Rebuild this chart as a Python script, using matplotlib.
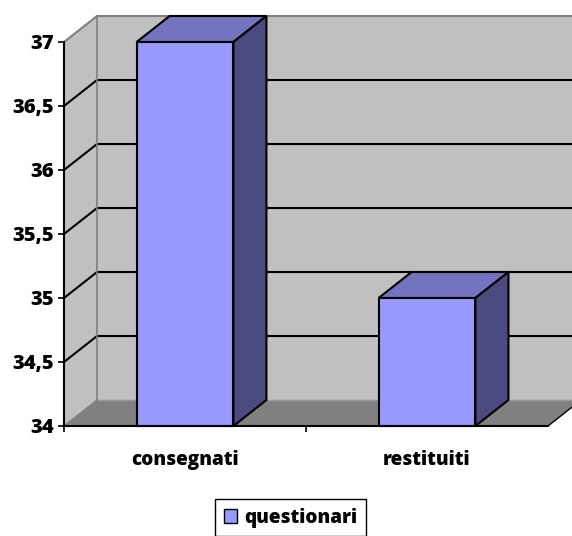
import matplotlib
matplotlib.use("Agg")
import matplotlib.pyplot as plt
from matplotlib.patches import Polygon, Patch
import numpy as np

# ---- data ----
categories = ["consegnati", "restituiti"]
values = [37, 35]
series_name = "questionari"
y_ticks = [34, 34.5, 35, 35.5, 36, 36.5, 37]
y_tick_labels = ["34", "34,5", "35", "35,5", "36", "36,5", "37"]

# ---- style ----
plt.rcParams["font.family"] = ["Open Sans", "DejaVu Sans"]
FW = 800
plt.rcParams["font.weight"] = FW
FS = 14.5
FS_CAT = 13.7
front_c = "#9999FF"
top_c = "#7373BF"
side_c = "#4B4B7F"
wall_c = "#C0C0C0"
floor_c = "#808080"

ymin, ymax = 34, 37
dx, dy = 0.1364, 0.203   # depth offset in data units
bw = 0.4
x = np.arange(len(categories))
xl, xr = -0.5, len(categories) - 0.5

fig = plt.figure(figsize=(5.72, 5.36), dpi=100)
ax = fig.add_axes([0, 0, 1, 1])
ax.set_xlim(-0.7645, 1.599)
ax.set_ylim(33.1406, 37.328)
ax.set_facecolor("white")

# walls
ax.add_patch(Polygon([(xl, ymin), (xl + dx, ymin + dy), (xl + dx, ymax + dy), (xl, ymax)],
                     closed=True, facecolor=wall_c, edgecolor="none", zorder=1))
ax.add_patch(Polygon([(xl + dx, ymin + dy), (xr + dx, ymin + dy), (xr + dx, ymax + dy), (xl + dx, ymax + dy)],
                     closed=True, facecolor=wall_c, edgecolor="none", zorder=1))
# floor
ax.add_patch(Polygon([(xl, ymin), (xr, ymin), (xr + dx, ymin + dy), (xl + dx, ymin + dy)],
                     closed=True, facecolor=floor_c, edgecolor="none", zorder=1))
ax.plot([xr, xr + dx], [ymin, ymin + dy], color="black", lw=1.0, zorder=2)
ax.plot([xl + dx, xr + dx], [ymin + dy, ymin + dy], color="#9a9a9a", lw=1.0, zorder=2)

# gridlines
for v in y_ticks[1:-1]:
    ax.plot([xl, xl + dx, xr + dx], [v, v + dy, v + dy], color="black", lw=1.5, zorder=2)
# wall edges
ax.plot([xl, xl + dx, xr + dx], [ymax, ymax + dy, ymax + dy], color="#808080", lw=1.5, zorder=2)
ax.plot([xl + dx, xl + dx], [ymin + dy, ymax + dy], color="#808080", lw=1.2, zorder=2)
ax.plot([xl, xl + dx], [ymin, ymin + dy], color="#808080", lw=1.0, zorder=2)

# bars: front faces
bars = ax.bar(x, [v - ymin for v in values], bottom=ymin, width=bw, color=front_c,
              edgecolor="black", linewidth=1.5, zorder=4, label=series_name)
for xi, v in zip(x, values):
    x0, x1 = xi - bw / 2, xi + bw / 2
    ax.add_patch(Polygon([(x0, v), (x1, v), (x1 + dx, v + dy), (x0 + dx, v + dy)],
                         closed=True, facecolor=top_c, edgecolor="black", lw=1.5, zorder=3))
    ax.add_patch(Polygon([(x1, ymin), (x1, v), (x1 + dx, v + dy), (x1 + dx, ymin + dy)],
                         closed=True, facecolor=side_c, edgecolor="black", lw=1.5, zorder=3))

# axes spines
for s in ("top", "right"):
    ax.spines[s].set_visible(False)
ax.spines["left"].set_position(("data", xl))
ax.spines["left"].set_bounds(ymin, ymax)
ax.spines["bottom"].set_position(("data", ymin))
ax.spines["bottom"].set_bounds(xl, xr)
for s in ("left", "bottom"):
    ax.spines[s].set_linewidth(1.5)
    ax.spines[s].set_zorder(5)

ax.set_yticks(y_ticks)
ax.set_yticklabels(y_tick_labels, fontsize=FS, fontweight=FW)
ax.tick_params(axis="y", direction="out", length=4.5, width=1.2, pad=3)

ax.set_xticks([xl, 0.5])
ax.set_xticklabels(["", ""])
ax.set_xticks(x, minor=True)
ax.set_xticklabels(categories, minor=True, fontsize=FS_CAT, fontweight=FW)
ax.tick_params(axis="x", which="major", direction="out", length=4.5, width=1.2)
ax.tick_params(axis="x", which="minor", length=0, pad=17.5)

leg = ax.legend(handles=[Patch(facecolor=front_c, edgecolor="black", linewidth=1.0, label=series_name)],
                loc="upper left", bbox_to_anchor=(215 / 572, 1 - 499 / 536),
                bbox_transform=fig.transFigure, frameon=True, fancybox=False,
                edgecolor="black", framealpha=1, prop={"size": FS_CAT, "weight": FW},
                handlelength=0.7, handleheight=0.7, handletextpad=0.4, borderpad=0.45,
                borderaxespad=0)
leg.get_frame().set_linewidth(1.0)

fig.savefig("out.png", dpi=100, facecolor="white")
